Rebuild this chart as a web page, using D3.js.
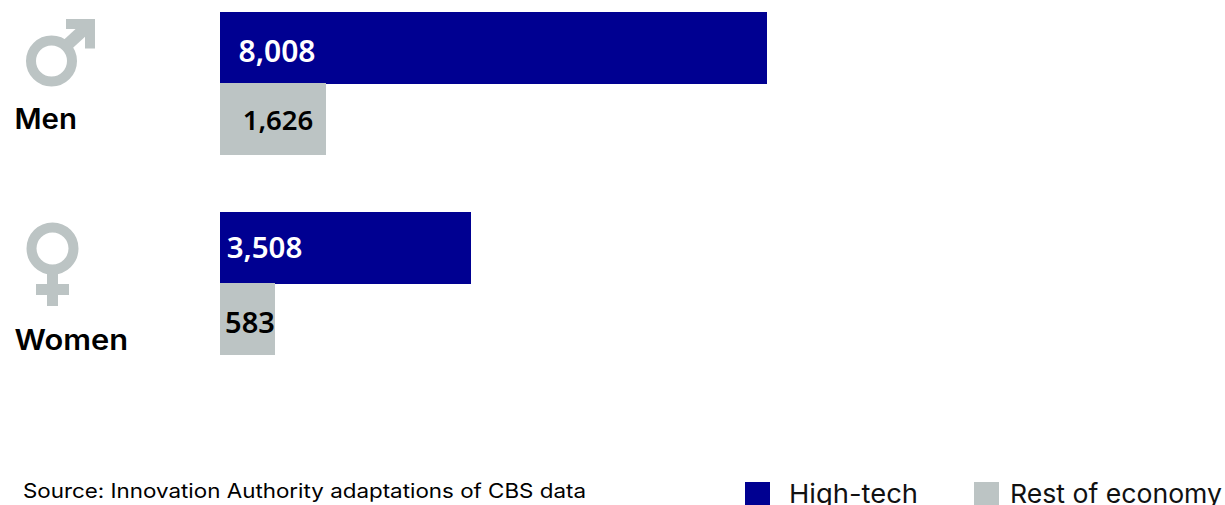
<!DOCTYPE html>
<html><head><meta charset="utf-8">
<script src="https://cdn.jsdelivr.net/npm/d3@7"></script>
<style>html,body{margin:0;padding:0;background:#fff;overflow:hidden}svg{display:block}</style>
</head><body><svg id="c" width="1225" height="505"></svg>
<script>
const categories = ["Men", "Women"];
const seriesNames = ["High-tech", "Rest of economy"];
const highTech = [8008, 3508];
const restOfEconomy = [1626, 583];
const sourceText = "Source: Innovation Authority adaptations of CBS data";

const NAVY = "#000091", GREY = "#bcc4c4";
const svg = d3.select("#c");

// The reference's bars are not strictly proportional, so the scale carries its stops.
const x = d3.scaleLinear().domain([0, 583, 1626, 3508, 8008]).range([220, 275, 326, 471, 767]);
const yGroup = d3.scalePoint().domain(categories).range([12, 212]);
const ySeries = d3.scalePoint().domain(seriesNames).range([0, 71]);
const barH = 72;
const fmt = d3.format(",");
const series = [
  {name: seriesNames[0], values: highTech, color: NAVY, text: "#fff", labelX: [277, 264.5], labelY: [61.5, 258], size: [30, 29.5]},
  {name: seriesNames[1], values: restOfEconomy, color: GREY, text: "#000", labelX: [278, 250], labelY: [130, 332.5], size: [27.5, 29]}
];

series.forEach(s => {
  svg.append("g").selectAll("rect").data(s.values).join("rect")
    .attr("x", x(0))
    .attr("y", (d, i) => yGroup(categories[i]) + ySeries(s.name))
    .attr("width", d => x(d) - x(0))
    .attr("height", barH)
    .attr("fill", s.color);
});
series.forEach(s => {
  svg.append("g").selectAll("text").data(s.values).join("text")
    .attr("x", (d, i) => s.labelX[i])
    .attr("y", (d, i) => s.labelY[i])
    .attr("text-anchor", "middle")
    .attr("font-family", "'Noto Sans'")
    .attr("font-weight", 600)
    .attr("font-size", (d, i) => s.size[i])
    .attr("fill", s.text)
    .text(d => fmt(d));
});

// category labels
svg.append("g").selectAll("text").data(categories).join("text")
  .attr("x", 14.5)
  .attr("y", (d, i) => [129, 350][i])
  .attr("font-family", "Inter")
  .attr("font-weight", 600)
  .attr("font-size", 28)
  .attr("textLength", (d, i) => [62.5, 113.5][i])
  .attr("lengthAdjust", "spacingAndGlyphs")
  .attr("fill", "#000")
  .text(d => d);

// male icon
const m = svg.append("g").attr("fill", GREY);
m.append("circle").attr("cx", 51.5).attr("cy", 61).attr("r", 20.5).attr("fill", "none").attr("stroke", GREY).attr("stroke-width", 10);
m.append("line").attr("x1", 66).attr("y1", 46).attr("x2", 90).attr("y2", 24).attr("stroke", GREY).attr("stroke-width", 12);
m.append("path").attr("d", d3.line()([[66, 19], [95, 19], [95, 48.5], [85, 48.5], [85, 29], [66, 29]]) + "Z");

// female icon
const f = svg.append("g").attr("fill", GREY);
f.append("circle").attr("cx", 52.5).attr("cy", 248.5).attr("r", 21).attr("fill", "none").attr("stroke", GREY).attr("stroke-width", 10);
f.append("rect").attr("x", 47).attr("y", 272).attr("width", 11).attr("height", 34);
f.append("rect").attr("x", 36).attr("y", 284).attr("width", 33).attr("height", 11);

// source
svg.append("text").attr("x", 23).attr("y", 498)
  .attr("font-family", "Inter").attr("font-weight", 400).attr("font-size", 20)
  .attr("textLength", 563).attr("lengthAdjust", "spacingAndGlyphs")
  .attr("fill", "#000").text(sourceText);

// legend
const legendX = d3.scaleOrdinal().domain(seriesNames).range([745, 974]);
const legendTextX = d3.scaleOrdinal().domain(seriesNames).range([789, 1010]);
const legendLen = d3.scaleOrdinal().domain(seriesNames).range([129, 212]);
const lg = svg.append("g").selectAll("g").data(series).join("g");
lg.append("rect").attr("x", d => legendX(d.name)).attr("y", 482).attr("width", 25).attr("height", 23).attr("fill", d => d.color);
lg.append("text").attr("x", d => legendTextX(d.name)).attr("y", 503)
  .attr("font-family", "Inter").attr("font-size", 26)
  .attr("textLength", d => legendLen(d.name)).attr("lengthAdjust", "spacingAndGlyphs")
  .attr("fill", "#111").text(d => d.name);
</script></body></html>
